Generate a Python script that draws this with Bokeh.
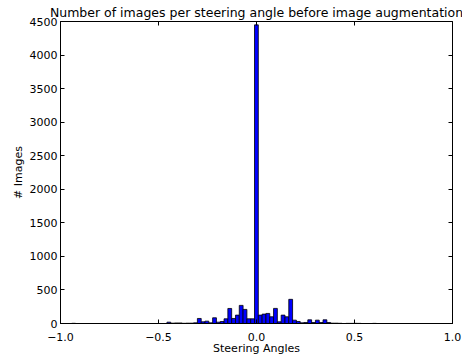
import numpy as np
from bokeh.plotting import figure
from bokeh.models import LinearAxis, FixedTicker, Range1d
from bokeh.embed import file_html
from bokeh.resources import INLINE

# Histogram: 100 bins between the min and max steering angle
angle_min = -0.9426
angle_max = 1.0
counts = [
    3, 0, 0, 0, 0, 0, 0, 0, 0, 0,
    0, 0, 0, 0, 0, 0, 0, 0, 0, 0,
    0, 0, 0, 0, 0, 20, 5, 8, 8, 3,
    5, 5, 10, 75, 25, 35, 10, 85, 20, 30,
    70, 224, 75, 125, 270, 210, 70, 70, 4450, 125,
    140, 150, 100, 225, 25, 125, 100, 360, 50, 30,
    10, 15, 55, 15, 50, 15, 55, 15, 5, 5,
    3, 0, 2, 2, 3, 2, 0, 0, 0, 2,
    0, 0, 0, 0, 0, 0, 0, 0, 0, 0,
    0, 0, 0, 0, 0, 0, 0, 0, 0, 0,
]
x_ticks = [-1.0, -0.5, 0.0, 0.5, 1.0]
y_ticks = [0, 500, 1000, 1500, 2000, 2500, 3000, 3500, 4000, 4500]
title_text = "Number of images per steering angle before image augmentation"

edges = np.linspace(angle_min, angle_max, len(counts) + 1)

FONT = "DejaVu Sans"

p = figure(frame_width=392, frame_height=302, output_backend="svg", toolbar_location=None,
           x_range=Range1d(x_ticks[0], x_ticks[-1]), y_range=Range1d(y_ticks[0], y_ticks[-1]),
           min_border_left=60, min_border_right=10, min_border_top=14,
           min_border_bottom=0)

p.title.text = title_text
p.title.text_font = FONT
p.title.text_font_size = "12.5px"
p.title.text_font_style = "normal"
p.title.text_color = "black"
p.title.align = "center"
p.title.standoff = 4
p.title.offset = 0

p.quad(left=edges[:-1], right=edges[1:], bottom=0, top=counts,
       fill_color="#0000ff", line_color="black", line_width=0.8)

p.grid.visible = False
p.outline_line_color = "black"
p.outline_line_width = 1

for ax in [p.xaxis[0], p.yaxis[0]]:
    ax.major_tick_in = 4
    ax.major_tick_out = 0
    ax.minor_tick_line_color = None
    ax.axis_line_color = "black"
    ax.major_tick_line_color = "black"
    ax.major_label_text_font = FONT
    ax.major_label_text_font_size = "11px"
    ax.major_label_text_color = "black"
    ax.axis_label_text_font = FONT
    ax.axis_label_text_font_size = "11px"
    ax.axis_label_text_font_style = "normal"
    ax.axis_label_text_color = "black"
    ax.major_label_standoff = 3

p.xaxis[0].ticker = FixedTicker(ticks=x_ticks)
p.yaxis[0].ticker = FixedTicker(ticks=y_ticks)
p.xaxis[0].major_label_overrides = {t: ("%.1f" % t).replace("-", "\u2212") for t in x_ticks}
p.xaxis[0].axis_label = "Steering Angles"
p.yaxis[0].axis_label = "# Images"
p.xaxis[0].major_label_standoff = 9
p.xaxis[0].axis_label_standoff = -2
p.yaxis[0].axis_label_standoff = 2

top_ax = LinearAxis(ticker=FixedTicker(ticks=x_ticks),
                    major_label_overrides={t: "" for t in x_ticks},
                    major_tick_in=4, major_tick_out=0, minor_tick_line_color=None,
                    axis_line_color=None, major_label_standoff=0)
right_ax = LinearAxis(ticker=FixedTicker(ticks=y_ticks),
                      major_label_overrides={t: "" for t in y_ticks},
                      major_tick_in=4, major_tick_out=0, minor_tick_line_color=None,
                      axis_line_color=None, major_label_standoff=0)
p.add_layout(top_ax, "above")
p.add_layout(right_ax, "right")

open("out.html", "w").write(file_html(p, INLINE))
